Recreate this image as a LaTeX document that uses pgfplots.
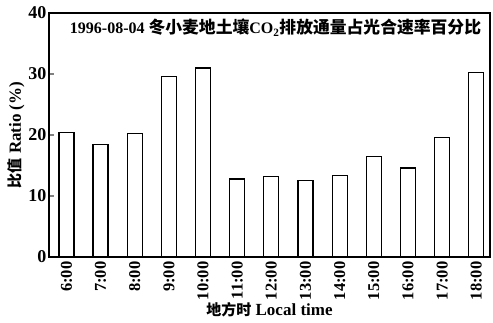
\documentclass[border=0pt]{standalone}
\usepackage{fontspec}
\setmainfont{Liberation Serif}
\newfontfamily\cjk{Noto Sans CJK SC}
\usepackage{pgfplots}
\pgfplotsset{compat=1.18}
\begin{document}
\begin{tikzpicture}
\begin{axis}[
  name=ax,
  scale only axis,
  width=441pt, height=244pt,
  xmin=-0.51, xmax=12.4,
  ymin=0, ymax=40,
  ytick={0,10,20,30,40},
  xtick={0,...,12},
  xticklabels={6:00,7:00,8:00,9:00,10:00,11:00,12:00,13:00,14:00,15:00,16:00,17:00,18:00},
  x tick label style={rotate=90, anchor=east, font=\fontsize{16.5}{16.5}\selectfont\bfseries, xshift=-1pt},
  y tick label style={font=\fontsize{18}{18}\selectfont\bfseries, xshift=1pt},
  /pgf/number format/assume math mode=true,
  xtick style={draw=none},
  ytick pos=left,
  tick align=inside,
  major tick length=5pt,
  axis line style={line width=1.3pt},
  ytick style={line width=1.2pt},
  ylabel={{\cjk\fontsize{15}{15}\selectfont\bfseries 比值}\ Ratio (\%)},
  xlabel={{\cjk\fontsize{15}{15}\selectfont\bfseries 地方时}\ Local time},
  ylabel style={font=\fontsize{17}{17}\selectfont\bfseries, yshift=-3pt},
  xlabel style={font=\fontsize{17}{17}\selectfont\bfseries, yshift=4pt},
]
\addplot[ybar, bar width=15pt, draw=black, line width=1.2pt, fill=white] coordinates {
(0,20.4) (1,18.4) (2,20.2) (3,29.6) (4,31.0) (5,12.8) (6,13.2) (7,12.5) (8,13.3) (9,16.5) (10,14.6) (11,19.6) (12,30.2)
};
\node[anchor=west, inner sep=0pt, font=\fontsize{16}{16}\selectfont\bfseries] at (rel axis cs:0.047,0.94) {1996-08-04 {\cjk\fontsize{16.8}{16.8}\selectfont 冬小麦地土壤}CO\textsubscript{2}{\cjk\fontsize{16.8}{16.8}\selectfont 排放通量占光合速率百分比}};
\end{axis}
\pgfresetboundingbox
\path ([shift={(-49pt,-66pt)}]ax.south west) rectangle ([shift={(444pt,257pt)}]ax.south west);
\end{tikzpicture}
\end{document}
